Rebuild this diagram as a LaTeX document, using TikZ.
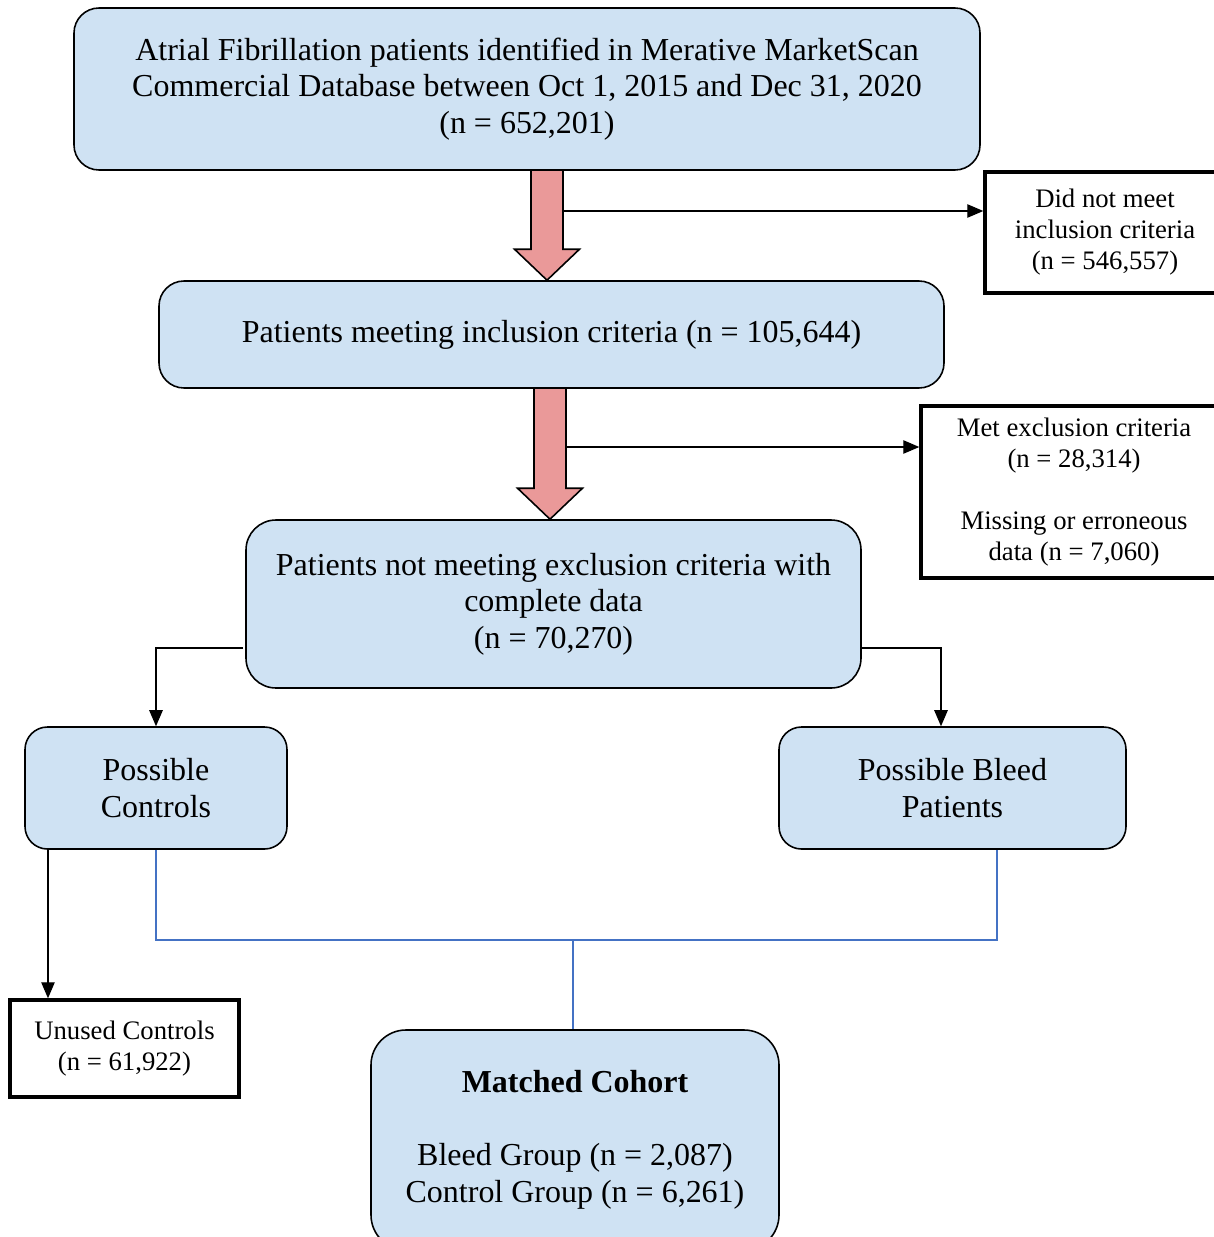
\documentclass[tikz,border=0pt]{standalone}
\usepackage{fontspec}
\setmainfont{Liberation Serif}
\usetikzlibrary{arrows.meta,calc}

\definecolor{boxblue}{HTML}{CFE2F3}
\definecolor{arrowred}{HTML}{EA9999}
\definecolor{joinblue}{HTML}{4472C4}

\tikzset{
  stagebox/.style={draw=black, line width=0.9pt, fill=boxblue, rounded corners=0.5cm,
    align=center, inner sep=0pt, font=\fontsize{18.2}{20.8}\selectfont},
  outbox/.style={draw=black, line width=2pt, fill=white, align=center, inner sep=0pt,
    font=\fontsize{15.2}{17.6}\selectfont},
  conn/.style={line width=0.6pt, -{Triangle[length=0.32cm,width=0.27cm]}},
  joinline/.style={draw=joinblue, line width=0.6pt},
  fatarr/.style={draw=black, line width=0.9pt, fill=arrowred}
}

% fat arrow: #1 start point, #2 tip
\newcommand{\fatarrow}[2]{%
  \draw[fatarr] let \p1=#1, \p2=#2 in
    (\x1-0.32cm,\y1) -- (\x1+0.32cm,\y1) -- (\x1+0.32cm,\y2+0.62cm)
    -- (\x1+0.65cm,\y2+0.62cm) -- (\x1,\y2) -- (\x1-0.65cm,\y2+0.62cm)
    -- (\x1-0.32cm,\y2+0.62cm) -- cycle;}

\begin{document}
\begin{tikzpicture}
	\useasboundingbox (0,0) rectangle (24.28,-24.74);

	% main stages
	\node[stagebox, minimum width=18.12cm, minimum height=3.24cm] (ident) at (10.54,-1.78)
		{Atrial Fibrillation patients identified in Merative MarketScan\\Commercial Database between Oct 1, 2015 and Dec 31, 2020\\(n = 652,201)};
	\node[stagebox, minimum width=15.7cm, minimum height=2.14cm] (incl) at (11.03,-6.69)
		{Patients meeting inclusion criteria (n = 105,644)};
	\node[stagebox, minimum width=12.3cm, minimum height=3.36cm, rounded corners=0.6cm] (compl) at (11.07,-12.08)
		{Patients not meeting exclusion criteria with\\complete data\\(n = 70,270)};
	\node[stagebox, minimum width=5.24cm, minimum height=2.44cm, rounded corners=0.45cm] (ctrl) at (3.12,-15.76)
		{Possible\\Controls};
	\node[stagebox, minimum width=6.94cm, minimum height=2.44cm, rounded corners=0.45cm] (bleed) at (19.05,-15.76)
		{Possible Bleed\\Patients};
	\node[stagebox, minimum width=8.16cm, minimum height=4.4cm, rounded corners=0.7cm] (cohort) at (11.5,-22.8)
		{\textbf{Matched Cohort}\\[20.8pt]Bleed Group (n = 2,087)\\Control Group (n = 6,261)};

	% excluded counts
	\node[outbox, minimum width=4.8cm, minimum height=2.42cm] (notmet) at (22.1,-4.65)
		{Did not meet\\inclusion criteria\\(n = 546,557)};
	\node[outbox, minimum width=6.12cm, minimum height=3.44cm] (excl) at (21.48,-9.84)
		{Met exclusion criteria\\(n = 28,314)\\[17.6pt]Missing or erroneous\\data (n = 7,060)};
	\node[outbox, minimum width=4.58cm, minimum height=1.94cm] (unused) at (2.49,-20.97)
		{Unused Controls\\(n = 61,922)};

	% fat arrows
	\coordinate (f1) at (10.94,-3.4);
	\coordinate (f2) at (11.0,-7.76);
	\fatarrow{(f1)}{(f1 |- incl.north)}
	\fatarrow{(f2)}{(f2 |- compl.north)}

	% side arrows
	\coordinate (s1) at (11.26,-4.22);
	\coordinate (s2) at (11.32,-8.94);
	\draw[conn] (s1) -- (s1 -| notmet.west);
	\draw[conn] (s2) -- (s2 -| excl.west);

	% split
	\coordinate (sl) at (4.86,-12.96);
	\coordinate (sr) at (17.22,-12.96);
	\draw[conn] (sl) -| (ctrl.north);
	\draw[conn] (sr) -| ([xshift=-0.23cm]bleed.north);
	\draw[conn] ([xshift=-2.16cm]ctrl.south) -- ([xshift=-2.16cm]ctrl.south |- unused.north);

	% matching
	\coordinate (join) at (11.46,-18.8);
	\draw[joinline] (ctrl.south) |- (join) -| ([xshift=0.89cm]bleed.south);
	\draw[joinline] (join) -- (join |- cohort.north);
\end{tikzpicture}
\end{document}
